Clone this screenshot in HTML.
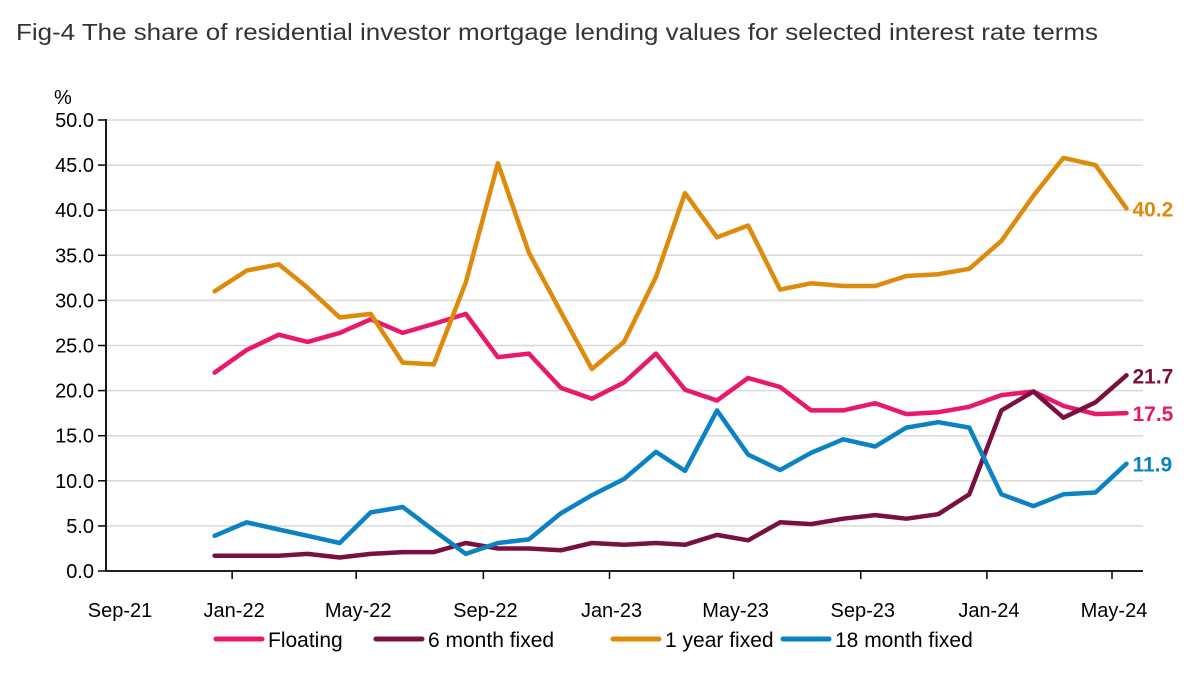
<!DOCTYPE html>
<html><head><meta charset="utf-8"><style>
body{margin:0;background:#fff;font-family:"Liberation Sans",sans-serif;}
svg text{font-family:"Liberation Sans",sans-serif;}
</style></head><body>
<svg id="chart" width="1203" height="678" xmlns="http://www.w3.org/2000/svg">
<text x="16" y="40" font-size="23.5" fill="#333" textLength="1082" lengthAdjust="spacingAndGlyphs">Fig-4 The share of residential investor mortgage lending values for selected interest rate terms</text>
<text x="54" y="104" font-size="20" fill="#000">%</text>
<g id="grid"></g><g id="axes"></g><g id="series"></g><g id="legend"></g>
</svg>
<script>
const yTicks=[0,5,10,15,20,25,30,35,40,45,50];
const xTickLabels=["Sep-21","Jan-22","May-22","Sep-22","Jan-23","May-23","Sep-23","Jan-24","May-24"];
const seriesNames=["Floating","6 month fixed","1 year fixed","18 month fixed"];
const floating=[22.0,24.5,26.2,25.4,26.4,27.9,26.4,27.4,28.5,23.7,24.1,20.3,19.1,20.9,24.1,20.1,18.9,21.4,20.4,17.8,17.8,18.6,17.4,17.6,18.2,19.5,19.9,18.3,17.4,17.5];
const sixMonth=[1.7,1.7,1.7,1.9,1.5,1.9,2.1,2.1,3.1,2.5,2.5,2.3,3.1,2.9,3.1,2.9,4.0,3.4,5.4,5.2,5.8,6.2,5.8,6.3,8.5,17.8,19.9,17.0,18.7,21.7];
const oneYear=[31.0,33.3,34.0,31.4,28.1,28.5,23.1,22.9,32.0,45.2,35.3,28.7,22.4,25.4,32.6,41.9,37.0,38.3,31.2,31.9,31.6,31.6,32.7,32.9,33.5,36.6,41.6,45.8,45.0,40.2];
const eighteenMonth=[3.9,5.4,4.6,3.9,3.1,6.5,7.1,4.5,1.9,3.1,3.5,6.4,8.4,10.2,13.2,11.1,17.8,12.9,11.2,13.1,14.6,13.8,15.9,16.5,15.9,8.5,7.2,8.5,8.7,11.9];
const colors=["#E8196B","#7A1040","#DE8A0A","#0A82C4"];
const NS="http://www.w3.org/2000/svg";
const x0=106,xEnd=1143,y0=571,y50=120;
const t0=Date.UTC(2021,8,1),t1=Date.UTC(2024,4,1);
function xDate(t){return x0+(t-t0)/(t1-t0)*(1112-x0);}
function xPt(i){return xDate(Date.UTC(2021,11+i,15));}
function yv(v){return y0-(v/50)*(y0-y50);}
function mk(tag,attrs,parent){const e=document.createElementNS(NS,tag);for(const k in attrs)e.setAttribute(k,attrs[k]);parent.appendChild(e);return e;}
const grid=document.getElementById('grid'),axes=document.getElementById('axes'),ser=document.getElementById('series'),leg=document.getElementById('legend');
yTicks.forEach(v=>{
 if(v>0){const g=mk('line',{x1:x0,x2:xEnd,y1:yv(v),y2:yv(v),stroke:'#d9d9d9','stroke-width':1.5},grid);
 
 }
 const tk=mk('line',{x1:x0-8,x2:x0,y1:yv(v),y2:yv(v),stroke:'#000','stroke-width':1.5},axes);
 
 
 const t=mk('text',{x:x0-12,y:yv(v)+7,'text-anchor':'end','font-size':20,fill:'#000'},axes);
 t.textContent=v.toFixed(1);
 
 
});
const ya=mk('line',{x1:x0,x2:x0,y1:y50-1,y2:y0,stroke:'#000','stroke-width':1.8},axes);


const xa=mk('line',{x1:x0,x2:xEnd,y1:y0,y2:y0,stroke:'#000','stroke-width':1.8},axes);


xTickLabels.forEach((l,i)=>{
 const x=xDate(Date.UTC(2021,8+4*i,1));
 if(i>0){const tk=mk('line',{x1:x,x2:x,y1:y0,y2:y0+8,stroke:'#000','stroke-width':1.5},axes);
 
 }
 const t=mk('text',{x:x+(i==0?14:2),y:617,'text-anchor':'middle','font-size':20,fill:'#000'},axes);
 t.textContent=l;
 
 
});
const all=[floating,sixMonth,oneYear,eighteenMonth];
const keys=['floating','six-month-fixed','one-year-fixed','eighteen-month-fixed'];
all.forEach((d,s)=>{
 const p=d.map((v,i)=>(i?'L':'M')+xPt(i).toFixed(1)+','+yv(v).toFixed(1)).join('');
 const path=mk('path',{d:p,fill:'none',stroke:colors[s],'stroke-width':4.5,'stroke-linejoin':'round','stroke-linecap':'round'},ser);
 
 
 const last=d[d.length-1];
 const t=mk('text',{x:xPt(d.length-1)+6,y:yv(last)+8,'font-size':21,'font-weight':'bold',fill:colors[s]},ser);
 t.textContent=last.toFixed(1);
 
 
});
const lx=[216,376,613,783];
seriesNames.forEach((n,s)=>{
 const g=mk('g',{},leg);
 
 
 mk('line',{x1:lx[s],x2:lx[s]+46,y1:639,y2:639,stroke:colors[s],'stroke-width':5,'stroke-linecap':'round'},g);
 const t=mk('text',{x:lx[s]+52,y:647,'font-size':21,fill:'#000'},g);
 t.textContent=n;
});
</script>
</body></html>
